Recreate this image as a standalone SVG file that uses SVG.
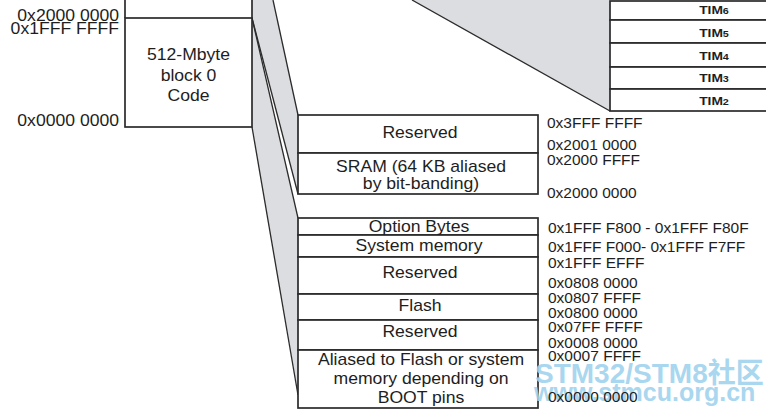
<svg xmlns="http://www.w3.org/2000/svg" width="766" height="418" viewBox="0 0 766 418">
<style>
.box{fill:#fff;stroke:#2b2b2b;stroke-width:1.7}
.ln{stroke:#2b2b2b;stroke-width:1.7;fill:none}
.wedge{fill:#dcdde0;stroke:none}
.wl{stroke:#2b2b2b;stroke-width:1.3;fill:none}
.lbl{font-family:"Liberation Sans",Arial,sans-serif;font-size:16px;fill:#1e1e1e;text-anchor:middle}
.addrL{font-family:"Liberation Sans",Arial,sans-serif;font-size:16px;fill:#1e1e1e;text-anchor:end}
.addr{font-family:"Liberation Sans",Arial,sans-serif;font-size:15.5px;fill:#1e1e1e}
.tim{font-family:"Liberation Sans",Arial,sans-serif;font-size:11.5px;font-weight:bold;fill:#1e1e1e;text-anchor:middle}
.wm{font-family:"Liberation Sans","Noto Sans CJK SC",sans-serif;font-weight:bold;fill:#9fd3ee;opacity:0.9}
</style>
<rect width="766" height="418" fill="#fff"/>

<g id="connectors">
<polygon class="wedge" points="252,0 273,0 298,115 298,194 252,18"/>
<polygon class="wedge" points="252,18 298,218 298,395 252,127"/>
<polygon class="wedge" points="412,0 610,0 610,111"/>
<line class="wl" x1="273" y1="0" x2="298" y2="115"/>
<line class="wl" x1="252" y1="18" x2="298" y2="194"/>
<line class="wl" x1="252" y1="18" x2="298" y2="218"/>
<line class="wl" x1="252" y1="127" x2="298" y2="395"/>
<line class="wl" x1="412" y1="0" x2="610" y2="111"/>
</g>

<g id="block-sram-region">
<line class="ln" x1="125" y1="-2" x2="125" y2="18"/>
<line class="ln" x1="252" y1="-2" x2="252" y2="18"/>
</g>

<g id="block0-code">
<rect class="box" x="125" y="18" width="127" height="109"/>
<text class="lbl" transform="translate(188.5,60) scale(1.1,1)">512-Mbyte</text>
<text class="lbl" transform="translate(188.5,81) scale(1.1,1)">block 0</text>
<text class="lbl" transform="translate(188.5,101) scale(1.1,1)">Code</text>
</g>

<g id="left-addresses">
<text class="addrL" transform="translate(119,21) scale(1.1,1)">0x2000 0000</text>
<text class="addrL" transform="translate(119,34) scale(1.1,1)">0x1FFF FFFF</text>
<text class="addrL" transform="translate(119,126) scale(1.1,1)">0x0000 0000</text>
</g>

<g id="tim-boxes">
<rect class="box" x="610" y="1" width="170" height="19"/>
<rect class="box" x="610" y="20" width="170" height="23"/>
<rect class="box" x="610" y="43" width="170" height="24"/>
<rect class="box" x="610" y="67" width="170" height="22"/>
<rect class="box" x="610" y="89" width="170" height="22"/>
<text class="tim" transform="translate(714,14) scale(1.2,1)">TIM<tspan font-size="9">6</tspan></text>
<text class="tim" transform="translate(714,36.5) scale(1.2,1)">TIM<tspan font-size="9">5</tspan></text>
<text class="tim" transform="translate(714,60) scale(1.2,1)">TIM<tspan font-size="9">4</tspan></text>
<text class="tim" transform="translate(714,82) scale(1.2,1)">TIM<tspan font-size="9">3</tspan></text>
<text class="tim" transform="translate(714,104.5) scale(1.2,1)">TIM<tspan font-size="9">2</tspan></text>
</g>

<g id="sram-detail">
<rect class="box" x="298" y="115" width="240" height="38"/>
<rect class="box" x="298" y="153" width="240" height="41"/>
<text class="lbl" transform="translate(420,138) scale(1.1,1)">Reserved</text>
<text class="lbl" transform="translate(421,172) scale(1.1,1)">SRAM (64 KB aliased</text>
<text class="lbl" transform="translate(421,189) scale(1.1,1)">by bit-banding)</text>
</g>

<g id="code-detail">
<rect class="box" x="298" y="218" width="240" height="17"/>
<rect class="box" x="298" y="235" width="240" height="22"/>
<rect class="box" x="298" y="257" width="240" height="37"/>
<rect class="box" x="298" y="294" width="240" height="26"/>
<rect class="box" x="298" y="320" width="240" height="30"/>
<rect class="box" x="298" y="350" width="240" height="58"/>
<text class="lbl" transform="translate(419,232) scale(1.1,1)">Option Bytes</text>
<text class="lbl" transform="translate(419,251) scale(1.1,1)">System memory</text>
<text class="lbl" transform="translate(420,278) scale(1.1,1)">Reserved</text>
<text class="lbl" transform="translate(420,311) scale(1.1,1)">Flash</text>
<text class="lbl" transform="translate(420,337) scale(1.1,1)">Reserved</text>
<text class="lbl" transform="translate(421,365) scale(1.1,1)">Aliased to Flash or system</text>
<text class="lbl" transform="translate(421,384) scale(1.1,1)">memory depending on</text>
<text class="lbl" transform="translate(421,403) scale(1.1,1)">BOOT pins</text>
</g>

<g id="watermark">
<text class="wm" x="535" y="383" font-size="28">STM32/STM8社区</text>
<text class="wm" x="534" y="401" font-size="25">www.stmcu.org.cn</text>
</g>

<g id="right-addresses">
<text class="addr" x="547" y="128">0x3FFF FFFF</text>
<text class="addr" x="547" y="150">0x2001 0000</text>
<text class="addr" x="547" y="165">0x2000 FFFF</text>
<text class="addr" x="547" y="198">0x2000 0000</text>
<text class="addr" x="548" y="233">0x1FFF F800 - 0x1FFF F80F</text>
<text class="addr" x="548" y="252">0x1FFF F000- 0x1FFF F7FF</text>
<text class="addr" x="548" y="268">0x1FFF EFFF</text>
<text class="addr" x="548" y="288">0x0808 0000</text>
<text class="addr" x="548" y="303">0x0807 FFFF</text>
<text class="addr" x="548" y="318">0x0800 0000</text>
<text class="addr" x="548" y="332">0x07FF FFFF</text>
<text class="addr" x="548" y="348">0x0008 0000</text>
<text class="addr" x="548" y="361">0x0007 FFFF</text>
<text class="addr" x="548" y="402">0x0000 0000</text>
</g>
</svg>
